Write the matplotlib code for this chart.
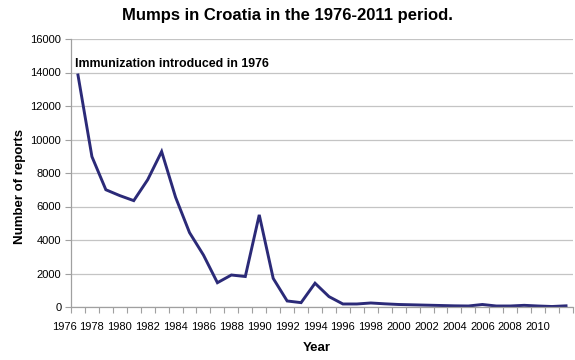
import matplotlib
matplotlib.use("Agg")
import matplotlib.pyplot as plt
import matplotlib.transforms as mtransforms

years = list(range(1976, 2012))
reports = [13850, 8980, 7000, 6650, 6350, 7600, 9280, 6550, 4440, 3100,
           1450, 1910, 1820, 5500, 1710, 360, 260, 1420, 620, 180,
           180, 240, 190, 150, 130, 110, 90, 70, 60, 150,
           60, 60, 100, 60, 30, 70]
tick_labels = [str(y) for y in range(1976, 2011, 2)]
y_ticks = list(range(0, 16001, 2000))

plt.rcParams['font.family'] = ['Liberation Sans', 'DejaVu Sans']

fig = plt.figure(figsize=(5.75, 3.6), dpi=100)
ax = fig.add_axes([71/575, 53/360, 502/575, 268/360])

ax.plot(years, reports, color='#2b2a78', lw=2.1, solid_joinstyle='miter')

ax.set_xlim(years[0] - 0.5, years[-1] + 0.5)
ax.set_ylim(0, 16000)
ax.set_yticks(y_ticks)
ax.set_yticklabels([str(v) for v in y_ticks], fontsize=8)
ax.yaxis.grid(True, color='#c4c4c4', lw=0.9)
ax.set_axisbelow(True)

major = [y - 0.5 for y in range(1976, 2011, 2)]
minor = [y - 0.5 for y in range(1976, 2013)]
ax.set_xticks(major)
ax.set_xticklabels(tick_labels, fontsize=8)
ax.set_xticks(minor, minor=True)
ax.tick_params(axis='x', which='both', direction='out', length=4, color='#a0a0a0', width=0.8, pad=7)
ax.tick_params(axis='y', direction='out', length=4, color='#a0a0a0', width=0.8, pad=3)
offset = mtransforms.ScaledTranslation(-7/100, 0, fig.dpi_scale_trans)
for lab in ax.get_xticklabels():
    lab.set_transform(lab.get_transform() + offset)

for s in ['top', 'right']:
    ax.spines[s].set_visible(False)
for s in ['left', 'bottom']:
    ax.spines[s].set_color('#a0a0a0')
    ax.spines[s].set_linewidth(0.9)

ax.set_xlabel('Year', fontsize=9.5, fontweight='bold')
ax.xaxis.set_label_coords(0.49, -0.13)
ax.set_ylabel('Number of reports', fontsize=9.5, fontweight='bold')
ax.yaxis.set_label_coords(-0.09, 0.45)
fig.suptitle('Mumps in Croatia in the 1976-2011 period.', fontsize=12, fontweight='bold', y=0.978)
ax.text(0.008, 0.905, 'Immunization introduced in 1976', transform=ax.transAxes,
        fontsize=8.9, fontweight='bold', va='center', ha='left')

fig.savefig('out.png', dpi=100)
